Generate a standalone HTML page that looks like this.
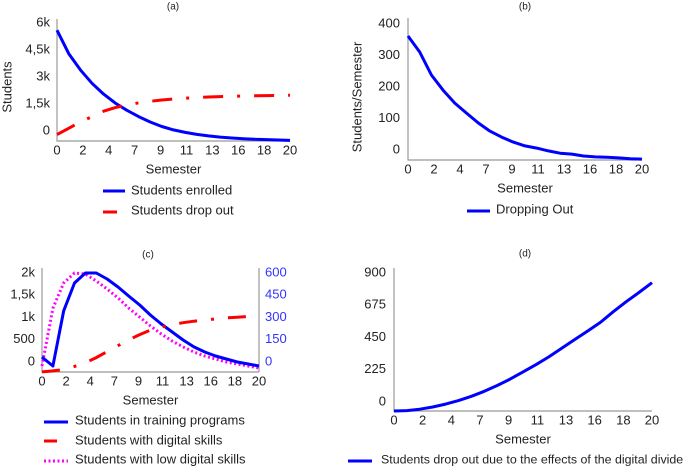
<!DOCTYPE html>
<html><head><meta charset="utf-8"><style>
html,body{margin:0;padding:0;background:#fff;}
svg{display:block;font-family:"Liberation Sans",sans-serif;}
</style></head><body>
<svg id="c" width="685" height="468" viewBox="0 0 685 468" xmlns="http://www.w3.org/2000/svg"></svg>
<script>
const xTickLabels=["0","2","4","7","9","11","13","16","18","20"];
const semesters=[0,1,2,3,4,5,6,7,8,9,10,11,12,13,14,15,16,17,18,19,20];
// (a)
const aTicks=[0,1500,3000,4500,6000];
const aTickLabels=["0","1,5k","3k","4,5k","6k"];
const aEnrolled=[5600,4300,3400,2650,2050,1550,1150,800,500,250,60,-80,-190,-270,-340,-390,-430,-460,-480,-500,-520];
const aDrop=[-200,150,500,800,1100,1300,1450,1560,1650,1720,1780,1820,1860,1890,1910,1930,1945,1955,1965,1975,1990];
// (b)
const bTicks=[0,100,200,300,400];
const bDropping=[362,311,238,190,149,117,86,60,41,25,13,6,-3,-10,-13,-19,-22,-23,-25,-28,-29];
// (c)
const cLeftTicks=[0,500,1000,1500,2000];
const cLeftLabels=["0","500","1k","1,5k","2k"];
const cRightTicks=[0,150,300,450,600];
const cTraining=[110,-90,1150,1775,2000,2000,1865,1685,1480,1280,1055,855,675,495,340,225,135,67,0,-45,-90];
const cLow=[-90,1210,1775,2000,1975,1820,1640,1440,1210,1010,810,630,470,340,225,135,67,0,-45,-90,-135];
const cDigital=[-67,-60,-50,-30,-5,30,70,110,150,185,215,235,252,265,275,283,290,297,302,307,310];
// (d)
const dTicks=[0,225,450,675,900];
const dDivide=[-63,-60,-50,-35,-15,10,40,75,115,160,210,260,315,375,435,495,555,630,700,765,832];

const svg=document.getElementById('c');
const NS="http://www.w3.org/2000/svg";
function mk(tag,attrs,parent){const e=document.createElementNS(NS,tag);for(const k in attrs)e.setAttribute(k,attrs[k]);(parent||svg).appendChild(e);return e;}
function txt(s,x,y,opts,name,parent){const t=mk('text',Object.assign({x:x,y:y,'font-size':13,fill:'#222','dominant-baseline':'middle'},opts||{}),parent);t.textContent=s;


return t;}
function lin(d0,d1,r0,r1){return v=>r0+(v-d0)*(r1-r0)/(d1-d0);}
function path(vals,xs,ys,attrs,name,g){let d='';vals.forEach((v,i)=>{d+=(i?'L':'M')+xs(semesters[i]).toFixed(1)+','+ys(v).toFixed(1);});
const p=mk('path',Object.assign({d:d,fill:'none','stroke-linejoin':'round'},attrs),g);


return p;}
function panel(cfg){
 const g=mk('g',{});
 
 
 txt(cfg.title,cfg.tx,cfg.ty,{'font-size':10,'text-anchor':'middle'},'panel-title',g);
 const ax=mk('path',{d:`M${cfg.x0},${cfg.top}V${cfg.bot}H${cfg.x1}`+(cfg.right?`M${cfg.x1},${cfg.top}V${cfg.bot}`:''),stroke:'#999',fill:'none','stroke-width':1.2},g);
 
 
 const xs=lin(0,20,cfg.x0,cfg.x1);
 xTickLabels.forEach((l,i)=>txt(l,cfg.x0+i*(cfg.x1-cfg.x0)/9,cfg.bot+10,{'text-anchor':'middle'},'x-tick-label',g));
 txt('Semester',(cfg.x0+cfg.x1)/2,cfg.bot+29,{'text-anchor':'middle'},'x-axis-title',g);
 return {g,xs};
}
// Panel a
(function(){
 const {g,xs}=panel({name:'panel-a',title:'(a)',tx:173,ty:7,x0:57,x1:290,top:19,bot:141});
 const ys=lin(0,6000,131,23);
 aTicks.forEach((v,i)=>txt(aTickLabels[i],50,ys(v),{'text-anchor':'end'},'y-tick-label',g));
 txt('Students',0,0,{'text-anchor':'middle',transform:'translate(8,87) rotate(-90)'},'y-axis-title',g);
 path(aEnrolled,xs,ys,{stroke:'#0000ff','stroke-width':3},'students-enrolled-line',g);
 path(aDrop,xs,ys,{stroke:'#ff0000','stroke-width':3,'stroke-dasharray':'20,14,3,14'},'students-drop-out-line',g);
 mk('line',{x1:103,x2:125,y1:191,y2:191,stroke:'#0000ff','stroke-width':3},g);
 txt('Students enrolled',131,191,{},'legend-students-enrolled',g);
 mk('line',{x1:103,x2:117,y1:212,y2:212,stroke:'#ff0000','stroke-width':3},g);
 txt('Students drop out',131,211,{},'legend-students-drop-out',g);
})();
// Panel b
(function(){
 const {g,xs}=panel({name:'panel-b',title:'(b)',tx:525,ty:7,x0:408,x1:642,top:18,bot:160});
 const ys=lin(0,400,150,24);
 bTicks.forEach(v=>txt(String(v),400,ys(v),{'text-anchor':'end'},'y-tick-label',g));
 txt('Students/Semester',0,0,{'text-anchor':'middle',transform:'translate(358,97) rotate(-90)'},'y-axis-title',g);
 path(bDropping,xs,ys,{stroke:'#0000ff','stroke-width':3},'dropping-out-line',g);
 mk('line',{x1:467,x2:490,y1:211,y2:211,stroke:'#0000ff','stroke-width':3},g);
 txt('Dropping Out',496,210,{},'legend-dropping-out',g);
})();
// Panel c
(function(){
 const {g,xs}=panel({name:'panel-c',title:'(c)',tx:148,ty:255,x0:42,x1:259,top:268,bot:372,right:true});
 const yl=lin(0,2000,362,273), yr=lin(0,600,362,273);
 cLeftTicks.forEach((v,i)=>txt(cLeftLabels[i],35,yl(v),{'text-anchor':'end'},'left-y-tick-label',g));
 cRightTicks.forEach(v=>txt(String(v),265,yr(v),{'text-anchor':'start',fill:'#3333ff'},'right-y-tick-label',g));
 path(cLow,xs,yl,{stroke:'#ff00ff','stroke-width':3,'stroke-dasharray':'2,2.5'},'low-digital-skills-line',g);
 path(cTraining,xs,yl,{stroke:'#0000ff','stroke-width':3},'training-programs-line',g);
 path(cDigital,xs,yr,{stroke:'#ff0000','stroke-width':3,'stroke-dasharray':'18,14,3,14'},'digital-skills-line',g);
 mk('line',{x1:44,x2:68,y1:422,y2:422,stroke:'#0000ff','stroke-width':3},g);
 txt('Students in training programs',75,421,{},'legend-training-programs',g);
 mk('line',{x1:44,x2:57,y1:441,y2:441,stroke:'#ff0000','stroke-width':3},g);
 txt('Students with digital skills',75,441,{},'legend-digital-skills',g);
 mk('line',{x1:44,x2:68,y1:461,y2:461,stroke:'#ff00ff','stroke-width':3,'stroke-dasharray':'2,2.5'},g);
 txt('Students with low digital skills',75,460,{},'legend-low-digital-skills',g);
})();
// Panel d
(function(){
 const {g,xs}=panel({name:'panel-d',title:'(d)',tx:525,ty:254,x0:394,x1:652,top:268,bot:411});
 const ys=lin(0,900,402,273);
 dTicks.forEach(v=>txt(String(v),386,ys(v),{'text-anchor':'end'},'y-tick-label',g));
 path(dDivide,xs,ys,{stroke:'#0000ff','stroke-width':3},'digital-divide-drop-out-line',g);
 mk('line',{x1:348,x2:372,y1:461,y2:461,stroke:'#0000ff','stroke-width':3},g);
 txt('Students drop out due to the effects of the digital divide',381,460,{'font-size':12.4},'legend-digital-divide',g);
})();
</script>
</body></html>
